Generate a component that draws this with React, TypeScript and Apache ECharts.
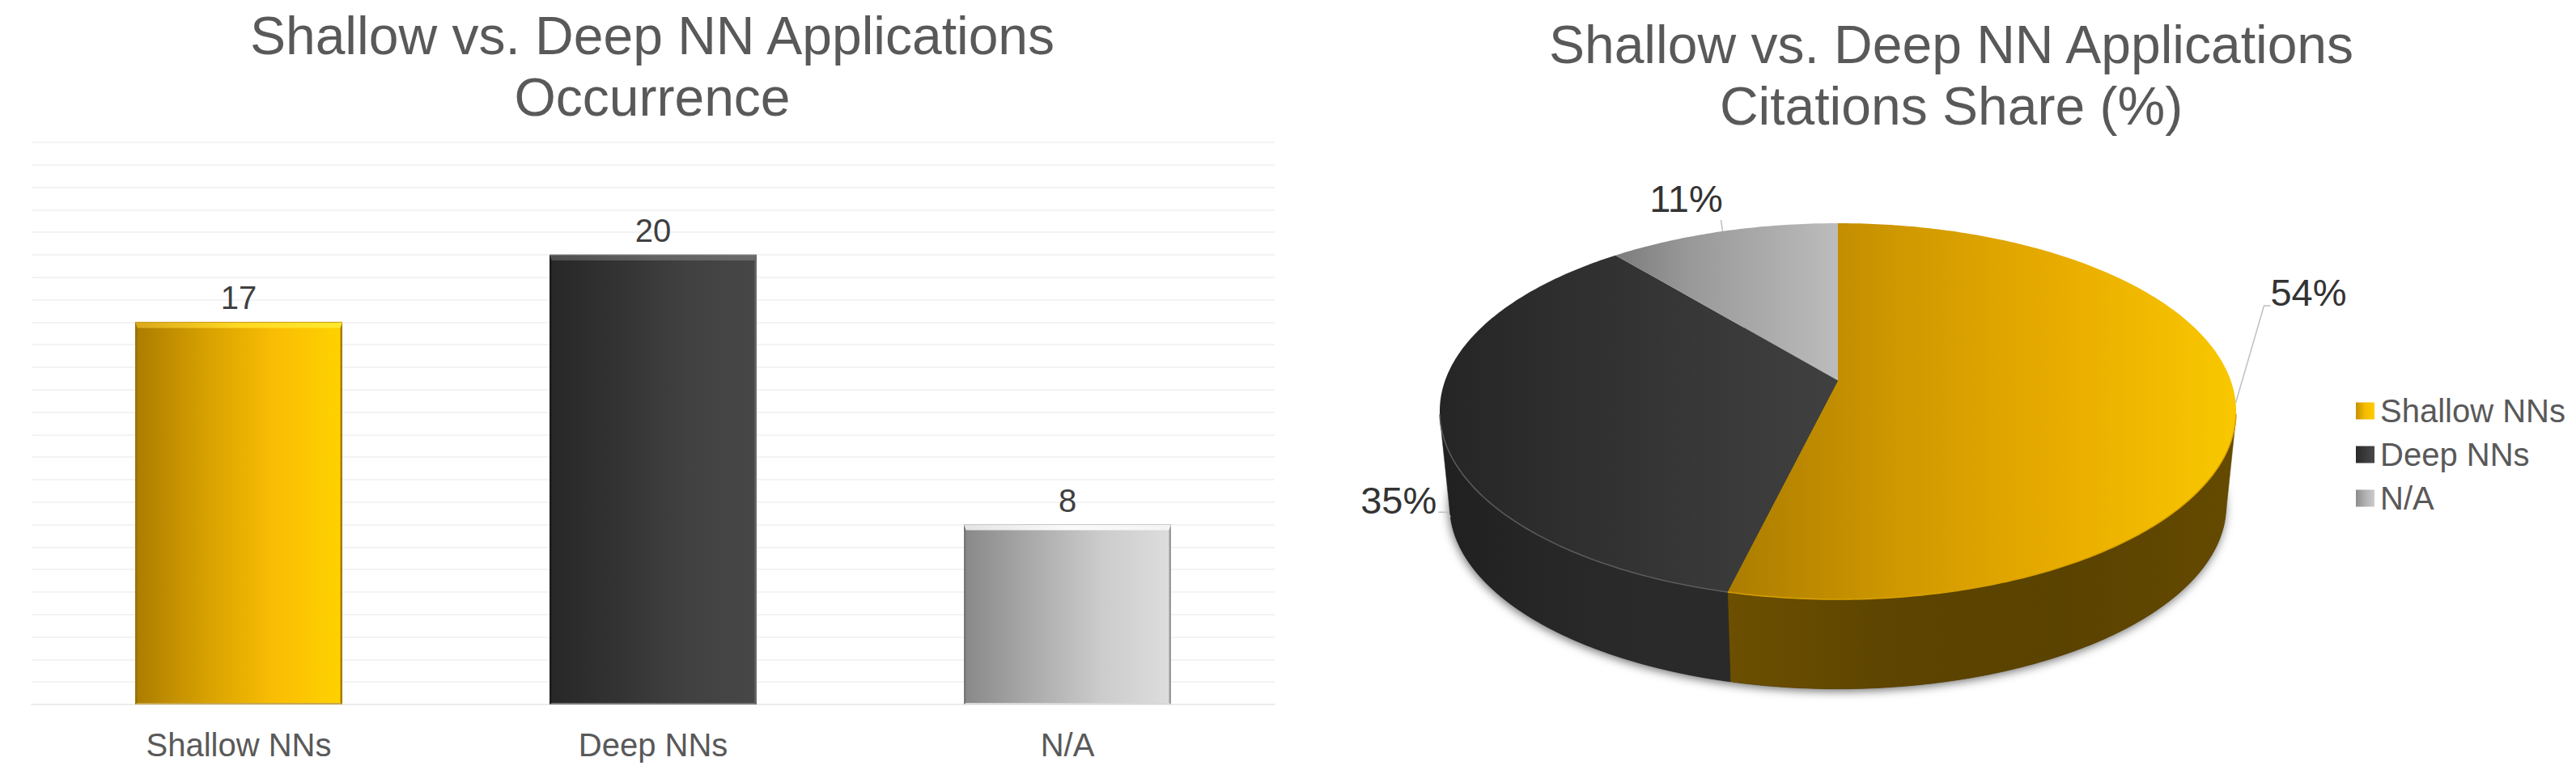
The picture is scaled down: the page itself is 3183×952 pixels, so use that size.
import React, { useEffect, useRef } from "react";
import * as echarts from "echarts";

const FONT = "'Liberation Sans', Arial, sans-serif";

const barCategories = ["Shallow NNs", "Deep NNs", "N/A"];
const occurrenceValues = [17, 20, 8];
const occurrenceAxisMax = 25;

const shareCategories = ["Shallow NNs", "Deep NNs", "N/A"];
const citationShares = [53.8, 35.2, 11];

const chartTitles = [
  "Shallow vs. Deep NN Applications\nOccurrence",
  "Shallow vs. Deep NN Applications\nCitations Share (%)",
];

const grad = (stops: string[]) =>
  new echarts.graphic.LinearGradient(
    0, 0, 1, 0,
    stops.map((color, i) => ({ offset: i / (stops.length - 1), color }))
  );

const barFill = [
  ["#ab7c00", "#d6a000", "#f9bd04", "#ffd200"],
  ["#272727", "#333333", "#414141", "#474747"],
  ["#888888", "#ababab", "#cccccc", "#dddddd"],
];
const bevelColors = [
  { top: ["#d9a81c", "#ffd823", "#ffe92e"], left: "#9a7000", right: "#a67c00", bottom: "#c9a850", rim: "#c89a10" },
  { top: ["#4e4e4e", "#626262", "#6a6a6a"], left: "#1c1c1c", right: "#6a6a6a", bottom: "#777777", rim: "#8a8a8a" },
  { top: ["#e4e4e4", "#fafafa", "#f4f4f4"], left: "#777777", right: "#9a9a9a", bottom: "#d8d8d8", rim: "#c8c8c8" },
];
const pieTop = [
  ["#ab7c00", "#cf9800", "#e9ad00", "#f9c800"],
  ["#252525", "#2f2f2f", "#383838", "#404040"],
  ["#7c7c7c", "#999999", "#aaaaaa", "#bcbcbc"],
];
const pieWall = [
  ["#6c4f00", "#5d4400", "#5a4200", "#654a00"],
  ["#202020", "#262626", "#2a2a2a", "#2a2a2a"],
  ["#444444", "#555555", "#555555", "#666666"],
];
const pieRim = ["#d9a200", "#5c5c5c", "#b0b0b0"];
const legendIcons = [
  ["#c69000", "#f5bb00", "#ffcc00"],
  ["#2a2a2a", "#3a3a3a", "#484848"],
  ["#8c8c8c", "#b0b0b0", "#cccccc"],
];

// projection of the tilted disc
const P = { cx: 2271, cy: 470.5, A: 485.4, B: 226.3, k: 0.1635, s: 0.975, dy: 117.5 };
const project = (theta: number) => {
  const u = Math.sin(theta);
  const v = -Math.cos(theta);
  const w = 1 - P.k * v;
  return [P.cx + (P.A * u) / w, P.cy + (P.B * v) / w];
};
const lower = (p: number[]) => [
  P.cx + P.s * (p[0] - P.cx),
  P.cy + P.dy + P.s * (p[1] - P.cy),
];
const arcAngles = (a: number, b: number) => {
  const n = Math.max(2, Math.ceil(Math.abs(b - a) / (Math.PI / 240)));
  const out: number[] = [];
  for (let i = 0; i <= n; i++) out.push(a + ((b - a) * i) / n);
  return out;
};
const arc = (a: number, b: number) => arcAngles(a, b).map(project);
// only the part of the rim whose outer wall faces the viewer
const facesViewer = (theta: number) => {
  const p = project(theta);
  const q = project(theta + 0.001);
  const d = lower(p);
  const tx = q[0] - p[0];
  const ty = q[1] - p[1];
  const ex = d[0] - p[0];
  const ey = d[1] - p[1];
  return tx * ey - ty * ex < 0;
};

// leader line offsets from the anchor: elbow, end, text centre
const labelLayout = [
  { onWall: false, elbow: [35, -120], end: [43, -120], text: [90, -136] },
  { onWall: true, elbow: [-4, -6], end: [-15, -6], text: [-64, -21] },
  { onWall: false, elbow: [-2, -14], end: [-2, -14], text: [-45, -40] },
];

const renderBevel = (params: any, api: any) => {
  const i = api.value(0);
  const top = api.coord([i, api.value(1)]);
  const base = api.coord([i, 0]);
  const w = api.size([1, 0])[0] * 0.5;
  const l = top[0] - w / 2;
  const r = top[0] + w / 2;
  const t = top[1];
  const b = base[1];
  const c = bevelColors[i];
  const m = 7;
  const e = 2.5;
  return {
    type: "group",
    children: [
      { type: "polygon", shape: { points: [[l, t], [r, t], [r - e, t + m], [l + e, t + m]] }, style: { fill: grad(c.top) } },
      { type: "polygon", shape: { points: [[l, t], [l + e, t + m], [l + e, b - 2], [l, b]] }, style: { fill: c.left } },
      { type: "polygon", shape: { points: [[r, t], [r - e, t + m], [r - e, b - 2], [r, b]] }, style: { fill: c.right } },
      { type: "polygon", shape: { points: [[l, b], [l + e, b - 2], [r - e, b - 2], [r, b]] }, style: { fill: c.bottom } },
      { type: "line", shape: { x1: l, y1: t, x2: r, y2: t }, style: { stroke: c.rim, lineWidth: 1 } },
    ],
  };
};

const renderSlice = (index: number) => (params: any, api: any) => {
  const share = api.value(0);
  const total = citationShares.reduce((a, b) => a + b, 0);
  const before = citationShares.slice(0, index).reduce((a, b) => a + b, 0);
  const a0 = (before / total) * Math.PI * 2;
  const a1 = a0 + (share / total) * Math.PI * 2;
  const top = arc(a0, a1);
  const front = arcAngles(a0, a1).filter(facesViewer).map(project);
  const mid = (a0 + a1) / 2;
  const layout = labelLayout[index];
  const anchor = layout.onWall ? lower(project(mid)) : project(mid);
  const children: any[] = [];
  if (index === 0) {
    children.push({
      type: "polygon",
      z2: 1,
      shape: { points: arc(0, Math.PI * 2).map(lower) },
      style: { fill: "#333333", shadowBlur: 12, shadowColor: "rgba(0,0,0,0.55)", shadowOffsetY: 3, shadowOffsetX: -1 },
    });
  }
  if (front.length > 1) {
    children.push({
      type: "polygon",
      z2: 2,
      shape: { points: [...front, ...front.map(lower).reverse()] },
      style: { fill: grad(pieWall[index]), stroke: pieWall[index][1], lineWidth: 0.5 },
    });
  }
  children.push(
    { type: "polygon", z2: 10, shape: { points: [[P.cx, P.cy], ...top] }, style: { fill: grad(pieTop[index]) } },
    {
      type: "polyline",
      z2: 11,
      shape: { points: top.filter((p) => p[1] > P.cy + 40) },
      style: { stroke: pieRim[index], lineWidth: 1.5, fill: "none" },
    },
    {
      type: "polyline",
      z2: 12,
      shape: {
        points: [
          anchor,
          [anchor[0] + layout.elbow[0], anchor[1] + layout.elbow[1]],
          [anchor[0] + layout.end[0], anchor[1] + layout.end[1]],
        ],
      },
      style: { stroke: "#bfbfbf", lineWidth: 1.5, fill: "none" },
    },
    {
      type: "text",
      z2: 13,
      style: {
        text: `${Math.round(share)}%`,
        x: anchor[0] + layout.text[0],
        y: anchor[1] + layout.text[1],
        align: "center",
        verticalAlign: "middle",
        fontFamily: FONT,
        fontSize: 47,
        fill: "#333333",
      },
    }
  );
  return { type: "group", children };
};

export default function App() {
  const ref = useRef<HTMLDivElement>(null);
  useEffect(() => {
    document.body.style.margin = "0";
    const chart = echarts.init(ref.current!, null, { renderer: "svg" });
    chart.setOption({
      animation: false,
      backgroundColor: "#ffffff",
      title: chartTitles.map((text, i) => ({
        text,
        left: i === 0 ? 806 : 2411,
        top: i === 0 ? 6 : 17,
        textAlign: "center",
        padding: 0,
        textStyle: { fontFamily: FONT, fontSize: 66, lineHeight: 76, fontWeight: "normal", color: "#595959" },
      })),
      grid: { left: 39, top: 176, width: 1536, height: 695, containLabel: false },
      xAxis: {
        type: "category",
        data: barCategories,
        axisTick: { show: false },
        axisLine: { lineStyle: { color: "#ececec", width: 2 } },
        axisLabel: { fontFamily: FONT, fontSize: 40, color: "#595959", margin: 30 },
      },
      yAxis: {
        type: "value",
        min: 0,
        max: occurrenceAxisMax,
        interval: 1,
        axisLabel: { show: false },
        axisTick: { show: false },
        axisLine: { show: false },
        splitLine: { lineStyle: { color: "#f3f3f3", width: 2 } },
      },
      legend: {
        orient: "vertical",
        left: 2911,
        top: 488,
        itemWidth: 23,
        itemHeight: 21,
        itemGap: 14,
        padding: 0,
        selectedMode: false,
        textStyle: { fontFamily: FONT, fontSize: 40, color: "#595959", padding: [0, 0, 0, 2] },
        data: shareCategories.map((name, i) => ({
          name,
          icon: "rect",
          itemStyle: { color: grad(legendIcons[i]), borderWidth: 0 },
        })),
      },
      series: [
        {
          type: "bar",
          name: "Occurrence",
          barWidth: "50%",
          data: occurrenceValues.map((value, i) => ({ value, itemStyle: { color: grad(barFill[i]) } })),
          label: {
            show: true,
            position: "top",
            distance: 10,
            fontFamily: FONT,
            fontSize: 40,
            color: "#404040",
          },
        },
        {
          type: "custom",
          name: "Bevel",
          coordinateSystem: "cartesian2d",
          silent: true,
          z: 3,
          data: occurrenceValues.map((v, i) => [i, v]),
          encode: { x: 0, y: 1 },
          renderItem: renderBevel,
        },
        ...shareCategories.map((name, i) => ({
          type: "custom",
          name,
          coordinateSystem: "none",
          z: 4,
          silent: true,
          itemStyle: { color: pieTop[i][2] },
          data: [[citationShares[i]]],
          renderItem: renderSlice(i),
        })),
      ],
    });
    return () => chart.dispose();
  }, []);
  return <div ref={ref} style={{ position: "fixed", left: 0, top: 0, width: 3183, height: 952 }} />;
}
